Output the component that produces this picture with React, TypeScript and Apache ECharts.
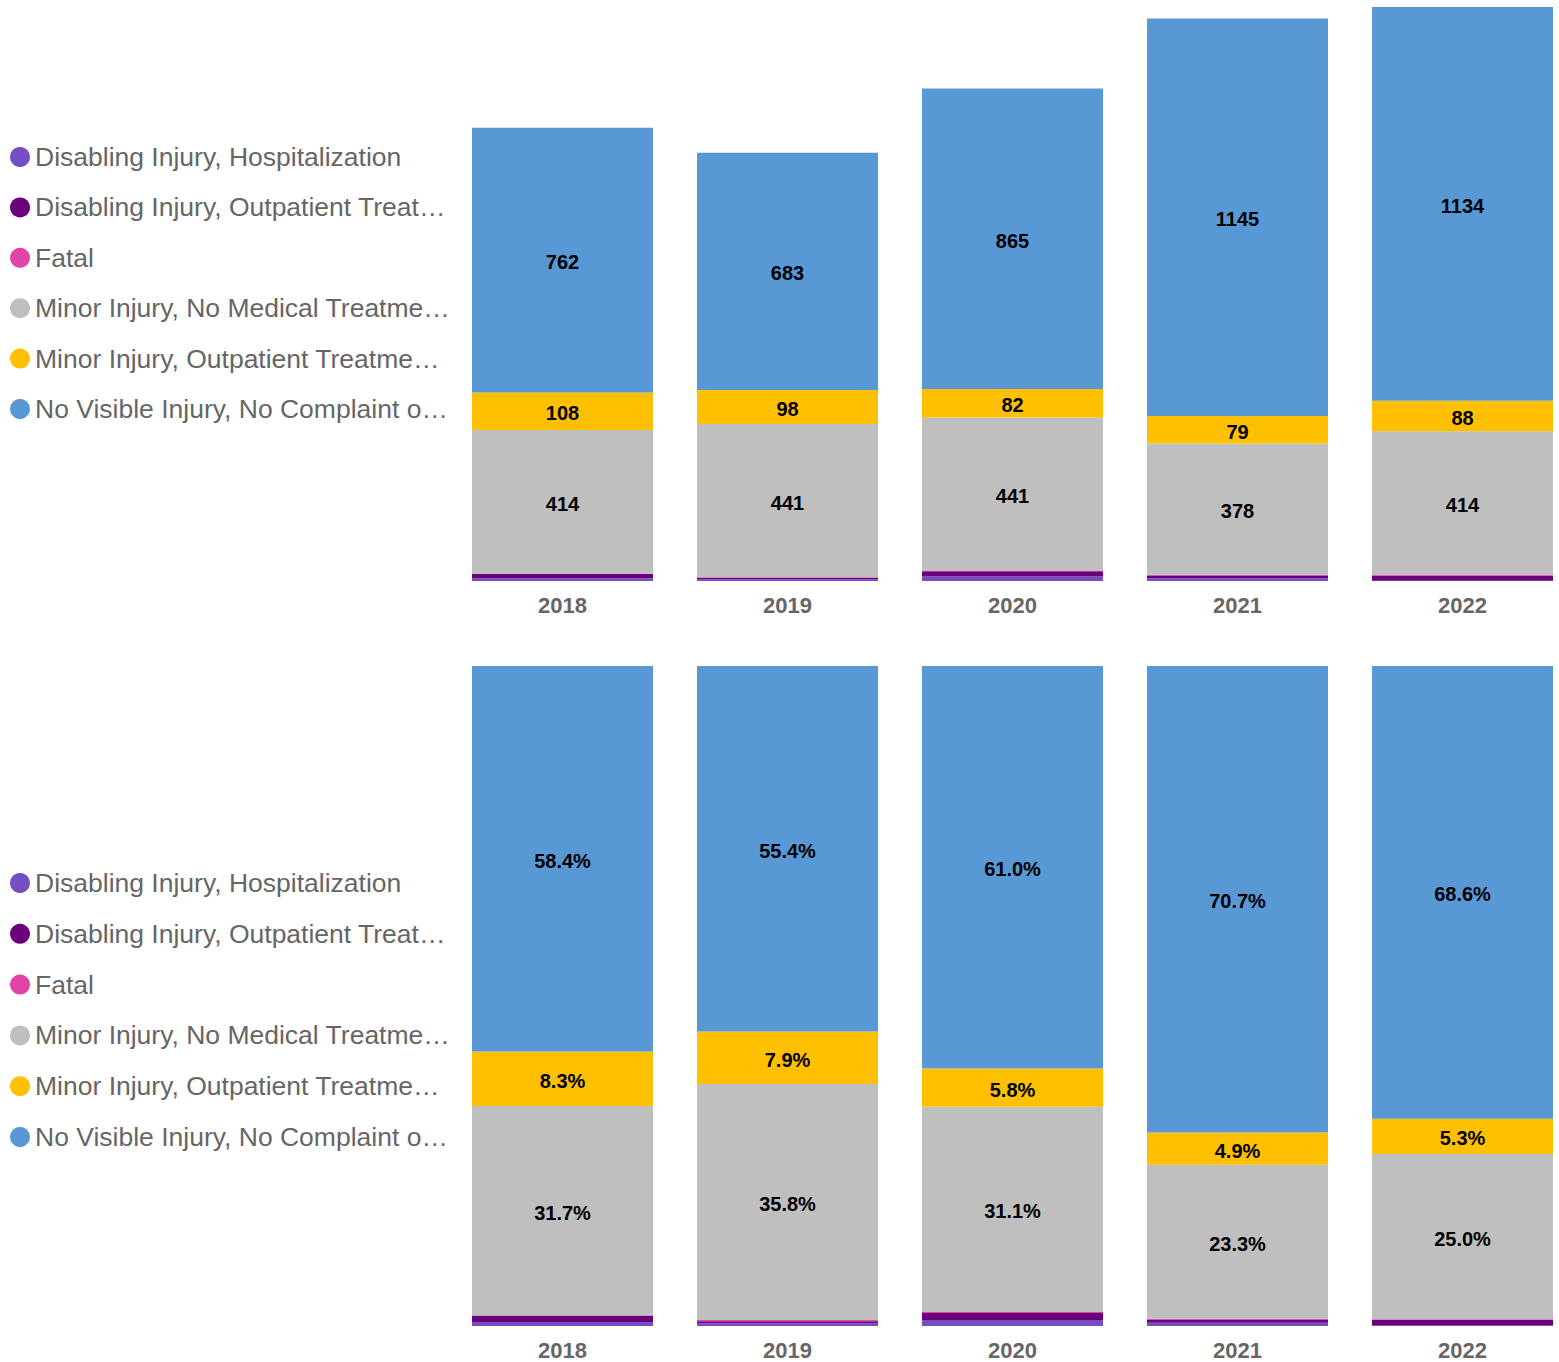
import React, { useEffect, useRef } from "react";
import * as echarts from "echarts";

const years = ["2018", "2019", "2020", "2021", "2022"];
const seriesNames = [
  "Disabling Injury, Hospitalization",
  "Disabling Injury, Outpatient Treatment",
  "Fatal",
  "Minor Injury, No Medical Treatment",
  "Minor Injury, Outpatient Treatment",
  "No Visible Injury, No Complaint of Pain",
];
const legendLabels = [
  "Disabling Injury, Hospitalization",
  "Disabling Injury, Outpatient Treat…",
  "Fatal",
  "Minor Injury, No Medical Treatme…",
  "Minor Injury, Outpatient Treatme…",
  "No Visible Injury, No Complaint o…",
];
const hospitalization = [8, 5, 13, 8, 1];
const outpatientDisabling = [13, 4, 15, 8, 14];
const fatal = [0, 2, 2, 2, 2];
const minorNoTreatment = [414, 441, 441, 378, 414];
const minorOutpatient = [108, 98, 82, 79, 88];
const noVisible = [762, 683, 865, 1145, 1134];

const colors = ["#744EC2", "#6B007B", "#E044A7", "#BFBFBF", "#FEC000", "#5899D5"];
const labelled = [false, false, false, true, true, true];

export default function App() {
  const ref = useRef<HTMLDivElement>(null);
  useEffect(() => {
    if (!ref.current) return;
    const chart = echarts.init(ref.current, undefined, { renderer: "svg" });
    const counts = [hospitalization, outpatientDisabling, fatal, minorNoTreatment, minorOutpatient, noVisible];
    const totals = years.map((_, i) => counts.reduce((s, arr) => s + arr[i], 0));
    const pcts = counts.map((arr) => arr.map((v, i) => (v / totals[i]) * 100));
    const maxTotal = Math.max(...totals);

    const labelStyle = {
      color: "#000",
      fontWeight: "bold" as const,
      fontSize: 20,
      fontFamily: "Arial, Liberation Sans, sans-serif",
      offset: [0, 2],
    };

    const series: any[] = [];
    counts.forEach((arr, k) => {
      series.push({
        name: seriesNames[k],
        type: "bar",
        stack: "counts",
        xAxisIndex: 0,
        yAxisIndex: 0,
        barWidth: 181,
        itemStyle: { color: colors[k] },
        label: { show: labelled[k], position: "inside", ...labelStyle },
        data: arr,
      });
    });
    pcts.forEach((arr, k) => {
      series.push({
        name: seriesNames[k],
        type: "bar",
        stack: "pct",
        xAxisIndex: 1,
        yAxisIndex: 1,
        barWidth: 181,
        itemStyle: { color: colors[k] },
        label: {
          show: labelled[k],
          position: "inside",
          ...labelStyle,
          formatter: (p: any) => p.value.toFixed(1) + "%",
        },
        data: arr,
      });
    });

    const xAxisBase = {
      type: "category" as const,
      data: years,
      axisLine: { show: false },
      axisTick: { show: false },
      axisLabel: {
        color: "#666666",
        fontWeight: "bold" as const,
        fontSize: 22,
        fontFamily: "Arial, Liberation Sans, sans-serif",
        margin: 13,
      },
    };
    const yAxisBase = {
      type: "value" as const,
      min: 0,
      show: false,
      splitLine: { show: false },
    };
    const legendBase = {
      orient: "vertical" as const,
      left: 5,
      icon: "circle",
      itemWidth: 20,
      itemHeight: 20,
      data: seriesNames,
      formatter: (name: string) => legendLabels[seriesNames.indexOf(name)],
      textStyle: {
        color: "#666666",
        fontSize: 26.5,
        lineHeight: 28,
        fontFamily: "Arial, Liberation Sans, sans-serif",
      },
    };

    chart.setOption({
      animation: false,
      color: colors,
      legend: [
        { ...legendBase, top: 138, itemGap: 22.4 },
        { ...legendBase, top: 864, itemGap: 22.8 },
      ],
      grid: [
        { left: 450, width: 1125, top: 7, height: 574 },
        { left: 450, width: 1125, top: 666, height: 660 },
      ],
      xAxis: [
        { ...xAxisBase, gridIndex: 0 },
        { ...xAxisBase, gridIndex: 1 },
      ],
      yAxis: [
        { ...yAxisBase, gridIndex: 0, max: maxTotal },
        { ...yAxisBase, gridIndex: 1, max: 100 },
      ],
      series,
    });
    return () => chart.dispose();
  }, []);
  return (
    <div style={{ position: "absolute", left: 0, top: 0, width: 1559, height: 1362, overflow: "hidden" }}>
      <div ref={ref} style={{ width: 1600, height: 1362 }} />
    </div>
  );
}
